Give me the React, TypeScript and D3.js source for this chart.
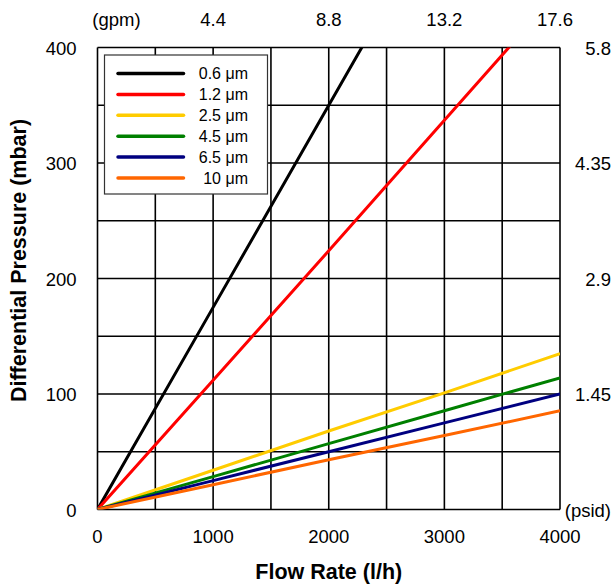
import React from "react";
import * as d3 from "d3";

const flows = [0, 1000, 2000, 3000, 4000];

// differential pressure (mbar) per filter grade
const p06 = [0, 175, 350, 525, 700];
const p12 = [0, 112, 224, 337, 450];
const p25 = [0, 34, 68, 101, 135];
const p45 = [0, 28.5, 57, 85.5, 114];
const p65 = [0, 25, 50, 75, 100];
const p10 = [0, 21.5, 43, 64, 85.5];

const seriesNames = ["0.6 μm", "1.2 μm", "2.5 μm", "4.5 μm", "6.5 μm", "10 μm"];
const seriesValues = [p06, p12, p25, p45, p65, p10];
const seriesColors = ["#000000", "#ff0000", "#ffcc00", "#008000", "#000080", "#ff6600"];

// axis labels
const xTicks = [0, 1000, 2000, 3000, 4000];
const yTicks = [0, 100, 200, 300, 400];
const gpmLabels = ["4.4", "8.8", "13.2", "17.6"];
const psidLabels = ["(psid)", "1.45", "2.9", "4.35", "5.8"];

const W = 615;
const H = 585;
const margin = { top: 47.5, right: 55, bottom: 75.5, left: 97.5 };
const font = "Arial, 'Liberation Sans', sans-serif";
const tickSize = 18.5;

const App: React.FC = () => {
  const x = d3
    .scaleLinear()
    .domain([0, 4000])
    .range([margin.left, W - margin.right]);
  const y = d3
    .scaleLinear()
    .domain([0, 400])
    .range([H - margin.bottom, margin.top]);

  const line = d3
    .line<number>()
    .x((_d, i) => x(flows[i]))
    .y((d) => y(d));

  const vGrid = d3.range(0, 4001, 500);
  const hGrid = d3.range(0, 401, 50);

  const legendX = 104.5;
  const legendY = 55;

  return (
    <svg
      width={W}
      height={H}
      style={{ position: "absolute", left: 0, top: 0, background: "#fff" }}
      fontFamily={font}
    >
      <defs>
        <clipPath id="plotClip">
          <rect
            x={x(0)}
            y={y(400)}
            width={x(4000) - x(0)}
            height={y(0) - y(400)}
          />
        </clipPath>
      </defs>

      {/* grid */}
      {vGrid.map((v) => (
        <line
          key={"v" + v}
          x1={x(v)}
          x2={x(v)}
          y1={y(0)}
          y2={y(400)}
          stroke="#000"
          strokeWidth={1.6}
        />
      ))}
      {hGrid.map((v) => (
        <line
          key={"h" + v}
          x1={x(0)}
          x2={x(4000)}
          y1={y(v)}
          y2={y(v)}
          stroke="#000"
          strokeWidth={1.6}
        />
      ))}

      {/* curves */}
      <g clipPath="url(#plotClip)">
        {seriesValues.map((vals, i) => (
          <path
            key={seriesNames[i]}
            d={line(vals) || ""}
            fill="none"
            stroke={seriesColors[i]}
            strokeWidth={3}
          />
        ))}
      </g>

      {/* legend */}
      <rect
        x={legendX}
        y={legendY}
        width={163}
        height={139}
        fill="#fff"
        stroke="#333"
        strokeWidth={1.2}
      />
      {seriesNames.map((name, i) => {
        const ly = legendY + 18.5 + i * 20.9;
        return (
          <g key={name}>
            <line
              x1={legendX + 13.5}
              x2={legendX + 79}
              y1={ly}
              y2={ly}
              stroke={seriesColors[i]}
              strokeWidth={3.5}
              strokeLinecap="round"
            />
            <text
              x={legendX + 143.5}
              y={ly + 5.5}
              textAnchor="end"
              fontSize={16}
              fill="#000"
            >
              {name}
            </text>
          </g>
        );
      })}

      {/* bottom axis labels */}
      {xTicks.map((v) => (
        <text
          key={"xt" + v}
          x={x(v)}
          y={543}
          textAnchor="middle"
          fontSize={tickSize}
        >
          {v}
        </text>
      ))}

      {/* left axis labels */}
      {yTicks.map((v) => (
        <text
          key={"yt" + v}
          x={76.5}
          y={y(v) + 7}
          textAnchor="end"
          fontSize={tickSize}
        >
          {v}
        </text>
      ))}

      {/* top gpm labels */}
      <text x={x(0) + 19} y={25.5} textAnchor="middle" fontSize={tickSize}>
        (gpm)
      </text>
      {gpmLabels.map((t, i) => (
        <text
          key={"g" + t}
          x={x(xTicks[i + 1]) - (i === 3 ? 5 : 0)}
          y={25.5}
          textAnchor="middle"
          fontSize={tickSize}
        >
          {t}
        </text>
      ))}

      {/* right psid labels */}
      {psidLabels.map((t, i) => (
        <text
          key={"p" + t}
          x={611}
          y={y(yTicks[i]) + 7}
          textAnchor="end"
          fontSize={tickSize}
        >
          {t}
        </text>
      ))}

      {/* axis titles */}
      <text
        x={(x(0) + x(4000)) / 2}
        y={579}
        textAnchor="middle"
        fontSize={21.5}
        fontWeight="bold"
      >
        Flow Rate (l/h)
      </text>
      <text
        transform="translate(26, 260.5) rotate(-90)"
        textAnchor="middle"
        fontSize={21.5}
        fontWeight="bold"
      >
        Differential Pressure (mbar)
      </text>
    </svg>
  );
};

export default App;
